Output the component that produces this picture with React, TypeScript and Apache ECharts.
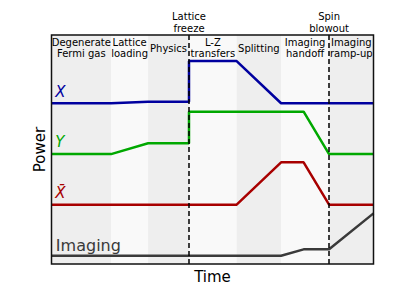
import React, { useEffect, useRef } from 'react';
import * as echarts from 'echarts';

// Sequence phases (time in arbitrary units, 0..100)
const phaseNames = ['Degenerate\nFermi gas', 'Lattice\nloading', 'Physics', 'L-Z\ntransfers', 'Splitting', 'Imaging\nhandoff', 'Imaging\nramp-up'];
const phaseBounds = [0, 18.5, 30, 42.7, 57.5, 71.3, 86.2, 100];
const phaseLabelLevel = 94.3;

// Events marked by dashed lines
const eventNames = ['Lattice\nfreeze', 'Spin\nblowout'];
const eventTimes = [42.7, 86.2];

// Beam powers (time, power)
const powerX: [number, number][] = [[0, 70.2], [18.5, 70.2], [30, 70.9], [42.7, 70.9], [42.7, 88.6], [57.5, 88.6], [71.3, 70.2], [100, 70.2]];
const powerY: [number, number][] = [[0, 48], [18.5, 48], [30, 52.7], [42.7, 52.7], [42.7, 66.5], [78.3, 66.5], [86.2, 48], [100, 48]];
const powerXbar: [number, number][] = [[0, 25.9], [57.5, 25.9], [71.3, 44.4], [78.3, 44.4], [86.2, 25.9], [100, 25.9]];
const powerImaging: [number, number][] = [[0, 3.6], [71.3, 3.6], [78.3, 6.4], [86.2, 6.4], [100, 22.1]];

// Beam name labels (name, time, power)
const beamNames = ['X', 'Y', 'X̄', 'Imaging'];
const beamLabelPos: [number, number][] = [[1.0, 74.9], [1.0, 53.1], [1.0, 30.8], [1.2, 7.9]];

const beamColors = ['#00009f', '#00a800', '#a80000', '#3a3a3a'];
const shades = ['#eeeeee', '#f9f9f9'];

export default function App() {
  const ref = useRef<HTMLDivElement>(null);
  useEffect(() => {
    if (!ref.current) return;
    const chart = echarts.init(ref.current, undefined, { renderer: 'svg' });
    const font = 'DejaVu Sans';
    const lineSeries = (name: string, data: [number, number][], color: string) => ({
      type: 'line', name, data, symbol: 'none', z: 3,
      lineStyle: { color, width: 2.5 },
    });
    chart.setOption({
      animation: false,
      textStyle: { fontFamily: font },
      grid: { left: 51.5, right: 41.5, top: 35, bottom: 33, show: true, borderColor: '#111', borderWidth: 1.5, z: 10, backgroundColor: 'transparent' },
      xAxis: {
        type: 'value', min: 0, max: 100,
        name: 'Time', nameLocation: 'middle', nameGap: 5,
        nameTextStyle: { fontSize: 15, color: '#000', fontFamily: font, verticalAlign: 'top' },
        axisLine: { show: false }, axisTick: { show: false }, axisLabel: { show: false }, splitLine: { show: false },
      },
      yAxis: {
        type: 'value', min: 0, max: 100,
        name: 'Power', nameLocation: 'middle', nameGap: 4,
        nameTextStyle: { fontSize: 15, color: '#000', fontFamily: font },
        axisLine: { show: false }, axisTick: { show: false }, axisLabel: { show: false }, splitLine: { show: false },
      },
      series: [
        {
          type: 'line', data: [], z: 1,
          markArea: {
            silent: true,
            data: phaseNames.map((n, i) => [
              { xAxis: phaseBounds[i], itemStyle: { color: shades[i % 2] } },
              { xAxis: phaseBounds[i + 1] },
            ]),
          },
        },
        lineSeries('X', powerX, beamColors[0]),
        lineSeries('Y', powerY, beamColors[1]),
        lineSeries('Xbar', powerXbar, beamColors[2]),
        lineSeries('Imaging', powerImaging, beamColors[3]),
        {
          type: 'scatter', z: 5, symbolSize: 1, itemStyle: { color: 'transparent', opacity: 1 },
          data: phaseNames.map((n, i) => ({ name: n, value: [(phaseBounds[i] + phaseBounds[i + 1]) / 2, phaseLabelLevel] })),
          label: { show: true, position: 'inside', formatter: '{b}', fontSize: 10, lineHeight: 11, color: '#000', fontFamily: font, align: 'center', textBorderWidth: 0 },
        },
        {
          type: 'scatter', z: 5, symbolSize: 1, itemStyle: { color: 'transparent', opacity: 1 },
          data: beamNames.map((n, i) => ({
            name: n, value: beamLabelPos[i],
            label: {
              color: beamColors[i],
              fontStyle: i < 3 ? 'italic' : 'normal',
              fontSize: i < 3 ? 15 : 16,
            },
          })),
          label: { show: true, position: 'right', distance: 0, formatter: '{b}', fontFamily: font, textBorderWidth: 0 },
        },
        {
          type: 'line', data: [], z: 6,
          markLine: {
            silent: true, symbol: 'none',
            lineStyle: { color: '#000', width: 1.5, type: [5, 3] },
            label: { show: true, position: 'end', formatter: '{b}', distance: 1, fontSize: 10, lineHeight: 12, color: '#000', fontFamily: font },
            data: eventTimes.map((t, i) => ({ xAxis: t, name: eventNames[i] })),
          },
        },
      ],
    });
    return () => chart.dispose();
  }, []);
  return <div ref={ref} style={{ width: 415, height: 297, position: 'absolute', left: 0, top: 0 }} />;
}
